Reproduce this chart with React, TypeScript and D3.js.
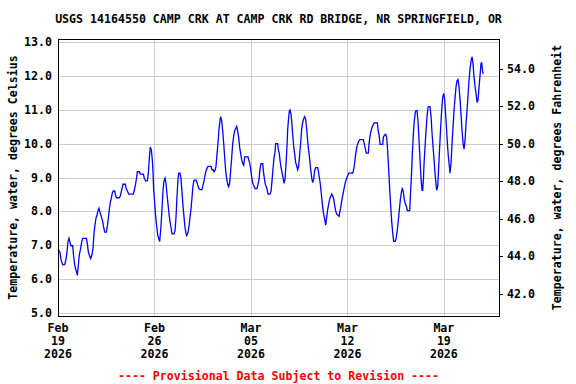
import * as d3 from 'd3';

const TITLE = 'USGS 14164550 CAMP CRK AT CAMP CRK RD BRIDGE, NR SPRINGFIELD, OR';
const LEFT_LABEL = 'Temperature, water, degrees Celsius';
const RIGHT_LABEL = 'Temperature, water, degrees Fahrenheit';
const FOOTER = '---- Provisional Data Subject to Revision ----';

const START = '2026-02-19T00:00:00Z';
const END = '2026-03-23T00:00:00Z';
const tickDates = ['2026-02-19', '2026-02-26', '2026-03-05', '2026-03-12', '2026-03-19'];
const celsiusTicks = [5, 6, 7, 8, 9, 10, 11, 12, 13];
const fahrenheitTicks = [42, 44, 46, 48, 50, 52, 54];

// [hours since Feb 19 00:00, deg C]
const week1 = [
  [0, 6.88], [3.5, 6.78], [5.2, 6.57], [8.1, 6.42], [11.6, 6.42], [13.9, 6.57], [15.7, 6.8], [17.4, 7.1],
  [19.2, 7.2], [20.9, 7.08], [22.6, 6.98], [25.5, 6.98], [26.7, 6.76], [28.4, 6.5], [30.2, 6.32], [32.5, 6.2],
  [33.7, 6.1], [35.4, 6.41], [37.2, 6.72], [39.5, 6.91], [41.2, 7.08], [43, 7.2], [49.3, 7.2], [51.1, 7.04],
  [52.8, 6.8], [54.6, 6.7], [56.9, 6.6], [59.2, 6.72], [61, 6.91], [62.7, 7.33], [64.4, 7.6], [66.2, 7.8],
  [67.9, 7.89], [69.7, 8.02], [71.4, 8.09], [73.2, 7.96], [75.5, 7.84], [77.8, 7.7], [79.5, 7.53], [81.3, 7.38],
  [84.2, 7.38], [85.9, 7.55], [87.7, 7.8], [89.4, 8.06], [91.1, 8.26], [92.9, 8.39], [94.6, 8.54], [96.4, 8.6],
  [98.7, 8.6], [99.9, 8.5], [101.6, 8.4], [106.8, 8.4], [108.6, 8.46], [110.3, 8.59], [112, 8.71], [113.2, 8.8],
  [117.3, 8.8], [118.4, 8.69], [120.8, 8.6], [123.1, 8.51], [131.2, 8.51], [132.9, 8.63], [134.7, 8.77],
  [136.4, 8.94], [138.2, 9.17], [141.6, 9.17], [143.4, 9.1], [148.6, 9.1], [150.4, 8.97], [152.7, 8.9],
  [155.6, 8.9], [157.3, 9.12], [158.5, 9.42], [159.7, 9.71], [160.8, 9.9], [162.6, 9.81], [164.3, 9.52],
  [165.5, 9.14], [166.6, 8.63], [168.4, 8.24],
];
const week2 = [
  [170.1, 7.84], [171.9, 7.55], [173.6, 7.3], [175.4, 7.2], [177.1, 7.1], [179.4, 7.57], [181.1, 8.06],
  [182.9, 8.61], [184.6, 8.9], [186.4, 8.98], [188.1, 8.83], [189.8, 8.51], [191.6, 8.21], [193.3, 7.92],
  [195.1, 7.69], [196.8, 7.52], [198.6, 7.33], [202, 7.33], [203.8, 7.42], [205.5, 7.82], [207.3, 8.46],
  [209, 8.95], [210.2, 9.13], [212.5, 9.13], [214.2, 8.95], [216, 8.56], [217.7, 8.16], [219.5, 7.82],
  [221.2, 7.52], [223, 7.33], [224.1, 7.28], [226.4, 7.37], [228.2, 7.57], [229.9, 7.82], [231.6, 8.06],
  [233.4, 8.41], [235.1, 8.75], [236.9, 8.92], [240.4, 8.92], [242.1, 8.85], [243.8, 8.75], [245.6, 8.67],
  [247.3, 8.64], [250.8, 8.64], [252.5, 8.77], [254.3, 8.9], [256, 9.07], [257.8, 9.2], [259.5, 9.27],
  [261.3, 9.33], [266.5, 9.33], [268.2, 9.23], [270.5, 9.23], [271.7, 9.17], [274, 9.23], [275.2, 9.34],
  [276.9, 9.69], [278.7, 10.03], [280.4, 10.43], [282.2, 10.7], [283.3, 10.8], [285.1, 10.67], [286.8, 10.38],
  [288.5, 10.03], [290.3, 9.59], [292, 9.2], [293.8, 8.95], [295.5, 8.8], [297.3, 8.73], [299, 8.85],
  [300.7, 9.2], [302.5, 9.59], [304.2, 9.99], [306, 10.23], [307.7, 10.38], [309.4, 10.45], [311.2, 10.51],
  [312.9, 10.38], [314.7, 10.18], [316.4, 9.89], [318.2, 9.69], [319.9, 9.52], [321.6, 9.42], [323.4, 9.36],
  [325.1, 9.61], [330.9, 9.61], [332.1, 9.52], [333.8, 9.44], [335.6, 9.25],
];
const week3 = [
  [337.3, 9.02], [339.1, 8.83], [340.8, 8.77], [343.1, 8.67], [346.6, 8.67], [348.3, 8.8], [350.1, 8.95],
  [351.8, 9.25], [353.6, 9.41], [356.5, 9.41], [357.6, 9.2], [359.4, 8.97], [361.1, 8.8], [364, 8.66],
  [365.7, 8.51], [369.2, 8.51], [371, 8.59], [372.7, 8.9], [374.4, 9.25], [376.2, 9.59], [377.9, 9.74],
  [379.1, 10.0], [382.6, 10.0], [383.7, 9.83], [385.5, 9.69], [387.2, 9.44], [389, 9.25], [390.7, 9.1],
  [392.4, 8.95], [393.6, 8.83], [395.3, 8.95], [397.1, 9.39], [398.8, 9.93], [400, 10.43], [401.7, 10.77],
  [402.9, 10.97], [404, 11.0], [405.8, 10.87], [407, 10.67], [408.7, 10.28], [410.4, 9.93], [412.2, 9.69],
  [413.9, 9.44], [415.7, 9.34], [417.4, 9.23], [419.1, 9.34], [420.9, 9.69], [422.6, 10.03], [424.4, 10.43],
  [426.1, 10.63], [427.8, 10.74], [429.6, 10.8], [431.3, 10.72], [433.1, 10.43], [434.8, 10.08], [436.6, 9.79],
  [438.3, 9.54], [440, 9.25], [441.8, 9.0], [443.5, 8.85], [445.3, 8.95], [447, 9.2], [448.8, 9.29],
  [452.2, 9.29], [453.4, 9.2], [455.1, 9.0], [456.9, 8.8], [458.6, 8.51], [460.4, 8.21], [462.1, 7.96],
  [463.8, 7.82], [466.2, 7.59], [467.9, 7.82], [469.7, 8.06], [471.4, 8.21], [473.1, 8.36], [474.9, 8.44],
  [476.6, 8.51], [478.4, 8.46], [480.1, 8.36], [481.8, 8.18], [483.6, 8.01], [485.3, 7.92], [487.1, 7.89],
  [489.4, 7.85], [490.6, 7.96], [492.3, 8.11], [494, 8.31], [495.8, 8.46], [497.5, 8.61], [499.3, 8.77],
  [501, 8.9], [502.7, 8.98],
];
const week4 = [
  [504.5, 9.05], [506.2, 9.13], [513.2, 9.13], [515, 9.25], [516.7, 9.44], [518.4, 9.69], [520.2, 9.89],
  [521.9, 9.99], [523.7, 10.08], [525.4, 10.12], [531.8, 10.12], [533.5, 9.99], [535.3, 9.84], [537, 9.72],
  [540.5, 9.72], [541.6, 9.99], [543.4, 10.23], [545.1, 10.38], [546.9, 10.48], [548.6, 10.55], [550.4, 10.62],
  [556.2, 10.62], [557.3, 10.41], [559.1, 10.26], [560.8, 9.98], [565.5, 9.98], [566.6, 10.19], [568.9, 10.26],
  [570.7, 10.28], [572.4, 10.19], [574.2, 9.77], [575.9, 9.23], [577.7, 8.64], [579.4, 8.15], [581.1, 7.7],
  [582.9, 7.36], [584.6, 7.11], [587.5, 7.11], [589.3, 7.24], [591, 7.46], [592.8, 7.75], [594.5, 8.05],
  [596.2, 8.34], [598, 8.56], [599.7, 8.69], [601.5, 8.56], [603.2, 8.34], [604.9, 8.22], [606.7, 8.15],
  [608.4, 8.02], [612.5, 8.02], [613.7, 8.44], [615.4, 9.03], [617.1, 9.72], [618.9, 10.31], [620.6, 10.7],
  [622.4, 10.95], [623.5, 10.98], [625.3, 10.98], [627, 10.65], [628.7, 10.11], [630.5, 9.52], [632.2, 8.98],
  [634, 8.62], [635.1, 8.62], [636.3, 8.93], [637.5, 9.42], [639.2, 9.92], [641, 10.41], [642.7, 10.8],
  [644.4, 11.08], [646.2, 11.1], [647.9, 11.1], [649.7, 10.8], [651.4, 10.31], [653.1, 9.92], [654.9, 9.52],
  [656.6, 9.13], [658.4, 8.78], [659.5, 8.62], [661.3, 8.74], [663, 9.33], [664.7, 9.92], [666.5, 10.51],
  [668.2, 11.0], [670, 11.39], [671.7, 11.49],
];
const week5 = [
  [672.9, 11.39], [674.6, 11.0], [676.4, 10.51], [678.1, 10.01], [679.8, 9.62], [681.6, 9.33], [682.7, 9.13],
  [684.5, 9.42], [686.2, 10.01], [688, 10.51], [689.7, 11.0], [691.4, 11.34], [693.2, 11.69], [694.9, 11.86],
  [696.7, 11.9], [698.4, 11.69], [700.2, 11.29], [701.9, 10.85], [703.6, 10.41], [705.4, 10.01], [707.1, 9.84],
  [708.9, 10.11], [710.6, 10.6], [712.4, 11.0], [714.1, 11.44], [715.8, 11.88], [717.6, 12.23], [719.3, 12.45],
  [721.1, 12.57], [722.8, 12.37], [724.5, 11.98], [726.3, 11.69], [728, 11.49], [729.8, 11.22], [731.5, 11.29],
  [733.3, 11.69], [735, 12.03], [736.7, 12.37], [737.9, 12.39], [739.7, 12.1], [741.4, 12.08],
];

const W = 576;
const H = 384;
const M = { top: 39, right: 77, bottom: 68, left: 58 };
const FONT = 'DejaVu Sans Mono, monospace';
const FS = 11.6;

export default function App() {
  const t0 = new Date(START);
  const x = d3.scaleUtc().domain([t0, new Date(END)]).range([M.left, W - M.right]);
  const y = d3.scaleLinear().domain([4.9, 13.1]).range([H - M.bottom, M.top]);
  const yF = d3.scaleLinear().domain([4.9 * 1.8 + 32, 13.1 * 1.8 + 32]).range([H - M.bottom, M.top]);

  const data = [...week1, ...week2, ...week3, ...week4, ...week5].map(([h, v]) => ({
    t: new Date(t0.getTime() + h * 3600 * 1000),
    v,
  }));

  const line = d3.line<{ t: Date; v: number }>()
    .x(d => x(d.t))
    .y(d => y(d.v));

  const x0 = M.left;
  const x1 = W - M.right;
  const y0 = M.top;
  const y1 = H - M.bottom;
  const fmtMon = d3.utcFormat('%b');
  const fmtDay = d3.utcFormat('%d');
  const fmtYear = d3.utcFormat('%Y');
  const midY = (y0 + y1) / 2;

  return (
    <svg width={W} height={H} style={{ position: 'absolute', left: 0, top: 0, background: '#fff' }}
      fontFamily={FONT} fontWeight="bold" fontSize={FS}>
      <rect x={0} y={0} width={W} height={H} fill="#fff" />
      <text x={(x0 + x1) / 2} y={23} textAnchor="middle">{TITLE}</text>

      {/* grid */}
      {celsiusTicks.map(t => (
        <line key={'gy' + t} x1={x0} x2={x1} y1={Math.round(y(t)) + 0.5} y2={Math.round(y(t)) + 0.5}
          stroke="#cccccc" strokeWidth={1} />
      ))}
      {tickDates.map(d => {
        const px = Math.round(x(new Date(d + 'T00:00:00Z'))) + 0.5;
        return <line key={'gx' + d} x1={px} x2={px} y1={y0} y2={y1} stroke="#cccccc" strokeWidth={1} />;
      })}

      <path d={line(data) || ''} fill="none" stroke="#0000ff" strokeWidth={1.3} />

      <rect x={x0 + 0.5} y={y0 + 0.5} width={x1 - x0} height={y1 - y0} fill="none" stroke="#000" strokeWidth={1} />

      {/* left axis labels */}
      {celsiusTicks.map(t => (
        <text key={'ly' + t} x={x0 - 6} y={y(t) + 4} textAnchor="end">{t.toFixed(1)}</text>
      ))}

      {/* right axis */}
      {fahrenheitTicks.map(t => (
        <g key={'ry' + t}>
          <line x1={x1} x2={x1 + 4} y1={Math.round(yF(t)) + 0.5} y2={Math.round(yF(t)) + 0.5} stroke="#000" />
          <text x={x1 + 8} y={yF(t) + 4}>{t.toFixed(1)}</text>
        </g>
      ))}

      {/* x axis labels */}
      {tickDates.map(d => {
        const dt = new Date(d + 'T00:00:00Z');
        const px = x(dt);
        return (
          <g key={'lx' + d} textAnchor="middle">
            <text x={px} y={y1 + 16}>{fmtMon(dt)}</text>
            <text x={px} y={y1 + 29}>{fmtDay(dt)}</text>
            <text x={px} y={y1 + 42}>{fmtYear(dt)}</text>
          </g>
        );
      })}

      <text transform={`translate(17,${midY}) rotate(-90)`} textAnchor="middle">{LEFT_LABEL}</text>
      <text transform={`translate(561,${midY}) rotate(-90)`} textAnchor="middle">{RIGHT_LABEL}</text>

      <text x={(x0 + x1) / 2} y={380} textAnchor="middle" fill="#ff0000">{FOOTER}</text>
    </svg>
  );
}
